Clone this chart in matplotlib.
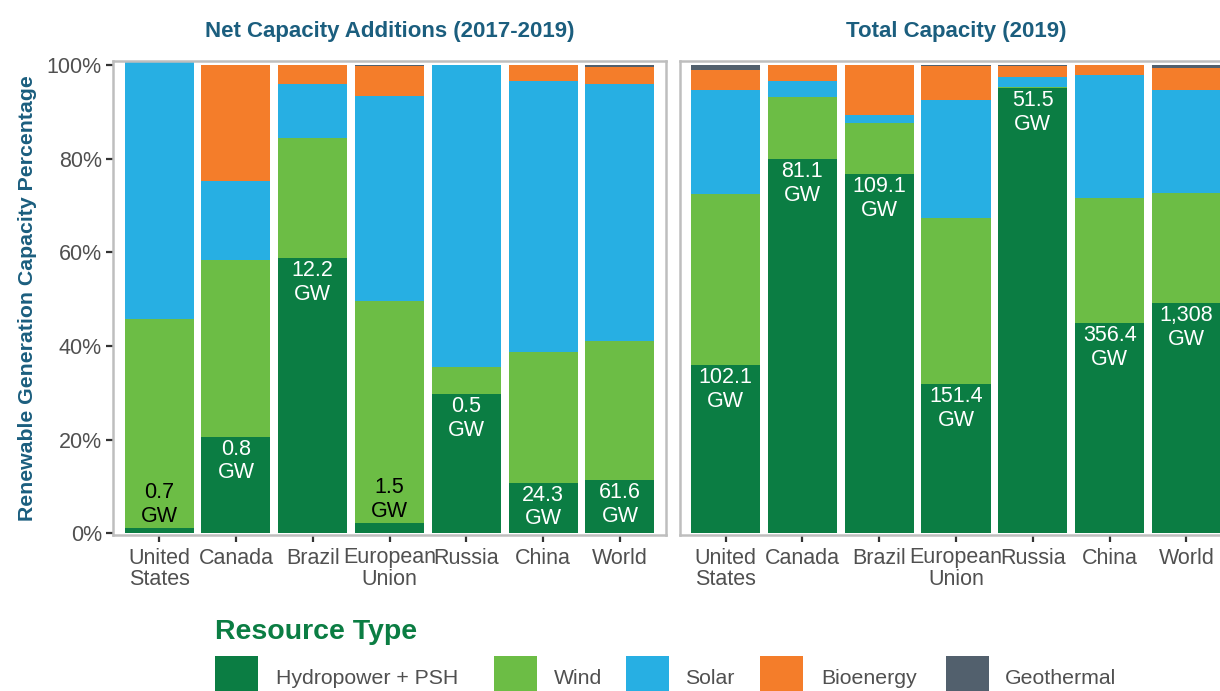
import matplotlib
matplotlib.use("Agg")
import matplotlib.pyplot as plt
from matplotlib.patches import Rectangle
import numpy as np

# ---------------- data ----------------
regions = ["United\nStates", "Canada", "Brazil", "European\nUnion", "Russia", "China", "World"]
resources = ["Hydropower + PSH", "Wind", "Solar", "Bioenergy", "Geothermal"]

# Net capacity additions 2017-2019 (% of renewable additions)
net_hydro = [1.2, 20.6, 58.8, 2.2, 29.7, 10.8, 11.4]
net_wind = [44.6, 37.8, 25.7, 47.4, 5.8, 27.9, 29.7]
net_solar = [54.9, 16.8, 11.5, 43.9, 64.5, 57.9, 54.9]
net_bio = [0.0, 24.8, 4.0, 6.3, 0.0, 3.4, 3.6]
net_geo = [0.0, 0.0, 0.0, 0.2, 0.0, 0.0, 0.4]
net_hydro_gw = ["0.7", "0.8", "12.2", "1.5", "0.5", "24.3", "61.6"]

# Total capacity 2019 (% of renewable capacity)
tot_hydro = [35.9, 80.0, 76.8, 31.9, 95.1, 44.9, 49.2]
tot_wind = [36.6, 13.2, 10.8, 35.5, 0.2, 26.8, 23.5]
tot_solar = [22.2, 3.4, 1.7, 25.2, 2.1, 26.2, 22.0]
tot_bio = [4.2, 3.4, 10.7, 7.2, 2.5, 2.1, 4.7]
tot_geo = [1.1, 0.0, 0.0, 0.2, 0.1, 0.0, 0.6]
tot_hydro_gw = ["102.1", "81.1", "109.1", "151.4", "51.5", "356.4", "1,308"]

yticks = [0, 20, 40, 60, 80, 100]
ytick_labels = ["0%", "20%", "40%", "60%", "80%", "100%"]

# ---------------- style ----------------
colors = ["#0B7D43", "#6CBD45", "#27AFE3", "#F47D2A", "#52606D"]
title_color = "#1B5E7E"
grey_txt = "#505050"
frame_col = "#BEBEBE"
NARROW = ["Liberation Sans Narrow", "Liberation Sans"]
REG = ["Liberation Sans", "DejaVu Sans"]

plt.rcParams["font.family"] = REG

W, H = 1220, 691
fig = plt.figure(figsize=(W / 100, H / 100), dpi=100)

def fx(px):
    return px / W

def fy(py):
    return 1 - py / H

ax_w = 553
ax_top, ax_bot = 61, 535
axL = fig.add_axes([fx(113), fy(ax_bot), fx(ax_w), (ax_bot - ax_top) / H])
axR = fig.add_axes([fx(679.5), fy(ax_bot), fx(ax_w), (ax_bot - ax_top) / H])

panels = [
    (axL, [net_hydro, net_wind, net_solar, net_bio, net_geo], net_hydro_gw,
     "Net Capacity Additions (2017-2019)"),
    (axR, [tot_hydro, tot_wind, tot_solar, tot_bio, tot_geo], tot_hydro_gw,
     "Total Capacity (2019)"),
]

x = np.arange(len(regions))
for ax, series, gw, title in panels:
    bottom = np.zeros(len(regions))
    for vals, col in zip(series, colors):
        v = np.array(vals, dtype=float)
        ax.bar(x, v, bottom=bottom, width=0.9, color=col, linewidth=0, zorder=2)
        bottom += v
    hydro = np.array(series[0], dtype=float)
    for xi, h, lab in zip(x, hydro, gw):
        if h < 5:
            ax.text(xi, h + 0.2, lab + "\nGW", ha="center", va="bottom", color="black",
                    fontsize=15.5, linespacing=1.15, zorder=3)
        else:
            ax.text(xi, h - 0.5, lab + "\nGW", ha="center", va="top", color="white",
                    fontsize=15.5, linespacing=1.15, zorder=3)
    ax.set_xlim(-0.6, 6.6)
    ax.set_ylim(-0.4, 100.9)
    ax.set_xticks(x)
    ax.set_xticklabels(regions, fontsize=15.5, color=grey_txt, linespacing=1.05)
    ax.tick_params(axis="x", length=5, width=1.6, color="#333333", pad=4)
    for s in ax.spines.values():
        s.set_color(frame_col)
        s.set_linewidth(1.8)
    ax.set_title(title, fontsize=16, fontweight="bold", color=title_color,
                 family=NARROW, pad=17)

axL.set_yticks(yticks)
axL.set_yticklabels(ytick_labels, fontsize=15.5, color=grey_txt)
axL.tick_params(axis="y", length=5, width=1.6, color="#333333", pad=3)
axL.set_ylabel("Renewable Generation Capacity Percentage", fontsize=15.3, fontweight="bold",
               color=title_color, family=NARROW, labelpad=7)
axR.set_yticks([])

# ---------------- legend ----------------
fig.text(fx(215), fy(632), "Resource Type", fontsize=20.5, fontweight="bold",
         color="#0B7D43", family=NARROW, ha="left", va="center")
box_x = [215, 494, 626, 760, 946]
text_x = [276, 554, 685, 821, 1005]
for bx, tx, name, col in zip(box_x, text_x, resources, colors):
    fig.add_artist(Rectangle((fx(bx), fy(700)), fx(43), 44 / H, transform=fig.transFigure,
                             facecolor=col, edgecolor="none"))
    fig.text(fx(tx), fy(678), name, fontsize=15.3, color=grey_txt, ha="left", va="center")

fig.savefig("out.png", dpi=100)
